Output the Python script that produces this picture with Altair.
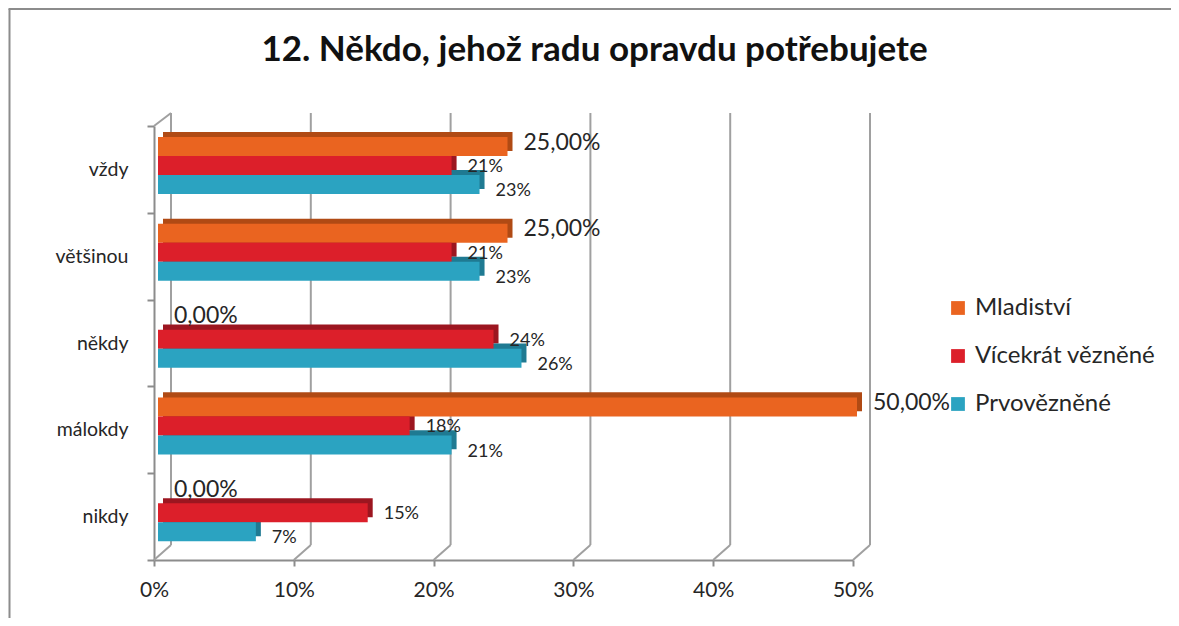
import altair as alt
import pandas as pd

categories = ["vždy", "většinou", "někdy", "málokdy", "nikdy"]
series = ["Mladiství", "Vícekrát vězněné", "Prvovězněné"]
mladistvi = [25, 25, 0, 50, 0]
vicekrat = [21, 21, 24, 18, 15]
prvovezene = [23, 23, 26, 21, 7]
x_ticks = [0, 0.1, 0.2, 0.3, 0.4, 0.5]
face_colors = ["#EA6420", "#DC1F2A", "#2BA3C1"]
side_colors = ["#B04A14", "#9C1620", "#1F7A92"]
title_text = "12. Někdo, jehož radu opravdu potřebujete"

FONT = "Lato"
W, H = 699, 434

rows = []
for s, vals, side in zip(series, [mladistvi, vicekrat, prvovezene], side_colors):
    for c, v in zip(categories, vals):
        if s == series[0]:
            lab = f"{v:.2f}".replace(".", ",") + "%"
            fs = 23
        else:
            lab = f"{v}%"
            fs = 18
        rows.append(dict(cat=c, series=s, value=v / 100, label=lab, fs=fs, side=side))
df = pd.DataFrame(rows)
ticks_df = pd.DataFrame({"t": x_ticks})

x_scale = alt.Scale(domain=[0, 0.5], nice=False, zero=True)
y_enc = alt.Y(
    "cat:N",
    sort=categories,
    scale=alt.Scale(paddingInner=0, paddingOuter=0),
    axis=alt.Axis(
        title=None,
        labelFont=FONT,
        labelFontSize=19.5,
        labelColor="#262626",
        labelPadding=19,
        tickBand="extent",
        tickSize=7,
        tickColor="#8c8c8c",
        tickWidth=2,
        domainColor="#8c8c8c",
        domainWidth=2,
    ),
)


def yoff(align):
    return alt.YOffset(
        "series:N",
        sort=series,
        scale=alt.Scale(domain=series, paddingInner=0, paddingOuter=0.784, align=align),
    )


x_axis = alt.Axis(
    values=x_ticks,
    format=".0%",
    title=None,
    grid=False,
    labelFont=FONT,
    labelFontSize=21,
    labelColor="#262626",
    labelPadding=13,
    labelFlush=False,
    tickSize=6,
    tickColor="#8c8c8c",
    tickWidth=2,
    domainColor="#8c8c8c",
    domainWidth=2,
)

grid = alt.Chart(ticks_df).mark_rule(color="#a0a0a0", strokeWidth=2, xOffset=17).encode(
    x=alt.X("t:Q", scale=x_scale, axis=x_axis),
    y=alt.value(-13),
    y2=alt.value(H - 15),
)
diag = alt.Chart(ticks_df).mark_rule(color="#a0a0a0", strokeWidth=2, x2Offset=17).encode(
    x=alt.X("t:Q", scale=x_scale),
    x2="t:Q",
    y=alt.value(H),
    y2=alt.value(H - 15),
)
topdiag = alt.Chart(ticks_df).transform_filter("datum.t == 0").mark_rule(
    color="#a0a0a0", strokeWidth=2, x2Offset=17
).encode(
    x=alt.X("t:Q", scale=x_scale),
    x2="t:Q",
    y=alt.value(0),
    y2=alt.value(-13),
)

dark = alt.Chart(df).mark_bar(xOffset=9, x2Offset=9).encode(
    x=alt.X("value:Q", scale=x_scale),
    y=y_enc,
    yOffset=yoff(0.2),
    color=alt.Color("side:N", scale=None),
)
face = alt.Chart(df).mark_bar(xOffset=4, x2Offset=4).encode(
    x=alt.X("value:Q", scale=x_scale),
    y=y_enc,
    yOffset=yoff(0.37),
    color=alt.Color(
        "series:N",
        sort=series,
        scale=alt.Scale(domain=series, range=face_colors),
        legend=alt.Legend(
            title=None,
            orient="none",
            legendX=792,
            legendY=170,
            symbolType="square",
            symbolSize=190,
            symbolStrokeWidth=0,
            labelFont=FONT,
            labelFontSize=24,
            labelColor="#262626",
            labelLimit=400,
            rowPadding=24,
            labelOffset=5,
            padding=0,
        ),
    ),
)
text = alt.Chart(df).mark_text(align="left", baseline="middle", dx=20, dy=2.5, font=FONT, color="#262626").encode(
    x=alt.X("value:Q", scale=x_scale),
    y=y_enc,
    yOffset=yoff(0.37),
    text="label:N",
    size=alt.Size("fs:Q", scale=None),
)
border_left = alt.Chart(ticks_df).transform_filter("datum.t == 0").mark_rule(
    color="#8c8c8c", strokeWidth=2
).encode(x=alt.value(-144.5), y=alt.value(-117), y2=alt.value(H + 60))
border_top = alt.Chart(ticks_df).transform_filter("datum.t == 0").mark_rule(
    color="#8c8c8c", strokeWidth=2
).encode(x=alt.value(-145.5), x2=alt.value(W + 330), y=alt.value(-117))

chart = (
    alt.layer(grid, diag, topdiag, dark, face, text, border_left, border_top)
    .resolve_scale(yOffset="independent")
    .properties(
        width=W,
        height=H,
        autosize=alt.AutoSizeParams(type="none"),
        padding={"left": 146, "top": 118, "right": 318, "bottom": 58},
        title=alt.TitleParams(
            title_text,
            font=FONT,
            fontSize=35,
            fontWeight="bold",
            color="#111111",
            anchor="middle",
            frame="group",
            baseline="alphabetic",
            dx=91,
            offset=-88,
        ),
    )
    .configure_view(stroke=None)
)

chart.save("out.html", embed_options={"renderer": "svg", "actions": False})
